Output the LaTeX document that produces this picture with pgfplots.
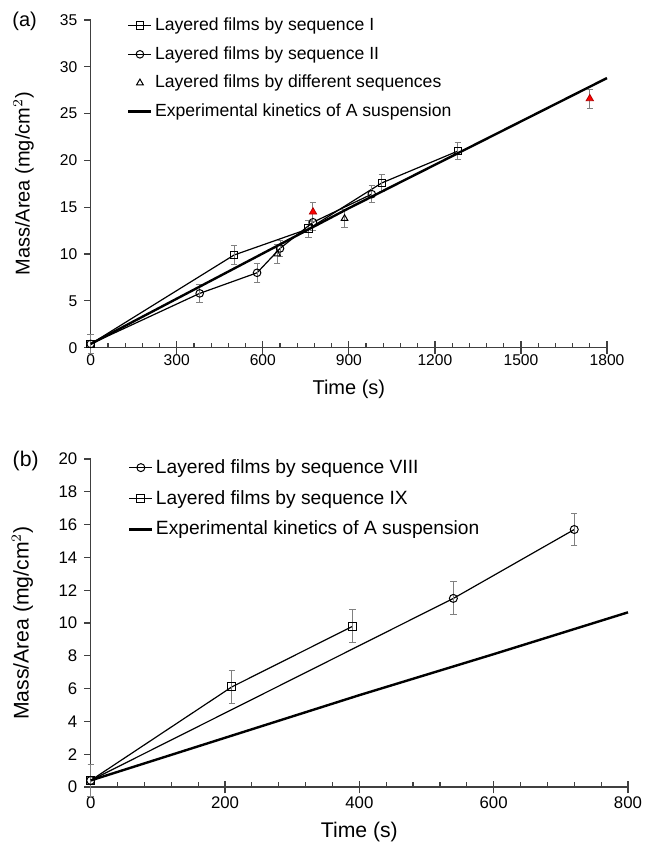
\documentclass[border=0pt]{standalone}
\usepackage{fontspec}
\setmainfont{Liberation Sans}
\usepackage{pgfplots}
\pgfplotsset{compat=1.18}

% one picture pixel = 0.5pt
\pgfplotsset{
  panel/.style={
    scale only axis,
    axis lines=left,
    axis line style={-, line width=0.6pt, black!75},
    tick align=inside,
    major tick length=3.2pt,
    minor tick length=2.4pt,
    tick style={black!75, line width=0.6pt},
    minor x tick num=4,
    ytick=\empty,
    extra x tick labels={},
    extra x tick style={tick align=outside},
    extra y tick style={tick align=outside},
    /pgf/number format/assume math mode=true,
    /pgf/number format/1000 sep={},
    clip=false,
    legend cell align=left,
    legend image code/.code={
      \draw[mark repeat=2,mark phase=2,#1] plot coordinates {(0pt,0pt) (5.75pt,0pt) (11.5pt,0pt)};},
  },
  series/.style={black, line width=0.6pt, mark options={solid, fill=white, line width=0.5pt}},
  bars/.style={
    error bars/y dir=both, error bars/y explicit,
    error bars/error bar style={black!50, line width=0.5pt},
    error bars/error mark options={rotate=90, mark size=1.6pt, black!50, line width=0.5pt}},
  kin/.style={black, line width=1.2pt, mark=none},
}

\begin{document}
\begin{tikzpicture}
\useasboundingbox (0,0) rectangle (322.5pt,425pt);

% ---------- panel (a) ----------
\begin{axis}[panel,
  at={(45.35pt,251.15pt)}, anchor=south west,
  width=258.15pt, height=163.85pt,
  xmin=0, xmax=1800, ymin=0, ymax=35,
  xtick={0,300,...,1800}, extra x ticks={0,300,...,1800},
  extra y ticks={0,5,...,35},
  tick label style={font=\fontsize{7.8}{8}\selectfont},
  xlabel={Time (s)}, ylabel={Mass/Area (mg/cm$^{2}$)},
  label style={font=\fontsize{10}{11}\selectfont},
  xlabel style={at={(axis description cs:0.5,-0.127)}, anchor=center},
  ylabel style={at={(axis description cs:-0.13,0.5)}, anchor=center},
  legend style={draw=none, fill=none, at={(axis description cs:0.07,1.015)}, anchor=north west,
    font=\fontsize{8.8}{10}\selectfont, row sep=4.0pt, inner sep=0pt, nodes={inner sep=1.2pt}},
]
% sequence I
\addplot[series, mark=square, mark size=1.9pt, bars] coordinates {
  (0,0.4) +- (0,1.0)
  (500,9.9) +- (0,1.0)
  (760,12.7) +- (0,0.9)
  (1015,17.6) +- (0,0.9)
  (1280,21.0) +- (0,0.9)
};
% sequence II
\addplot[series, mark=o, mark size=1.9pt, bars] coordinates {
  (0,0.4) +- (0,1.0)
  (380,5.8) +- (0,1.0)
  (580,8.0) +- (0,1.0)
  (660,10.6) +- (0,0.9)
  (775,13.4) +- (0,0.9)
  (980,16.4) +- (0,0.9)
};
% different sequences
\addplot[series, only marks, mark=triangle, mark size=1.9pt, bars] coordinates {
  (650,10.0) +- (0,1.0)
  (885,13.8) +- (0,1.0)
};
% kinetics of A suspension
\addplot[kin] coordinates {(0,0.4) (900,14.9) (1800,28.8)};
% filled red triangles (different sequences)
\addplot[forget plot, only marks, mark=triangle*, mark size=2.1pt, bars,
  mark options={fill=red, draw=red!70!black, line width=0.4pt}] coordinates {
  (775,14.5) +- (0,1.0)
  (1740,26.6) +- (0,1.0)
};
\legend{Layered films by sequence I, Layered films by sequence II,
  Layered films by different sequences, Experimental kinetics of A suspension}
\node[font=\fontsize{10}{11}\selectfont] at (axis description cs:-0.128,0.997) {(a)};
\end{axis}

% ---------- panel (b) ----------
\begin{axis}[panel,
  at={(45.35pt,31.5pt)}, anchor=south west,
  width=268.65pt, height=164pt,
  xmin=0, xmax=800, ymin=0, ymax=20,
  xtick={0,200,...,800}, extra x ticks={0,200,...,800},
  extra y ticks={0,2,...,20},
  tick label style={font=\fontsize{8.4}{9}\selectfont},
  xticklabel style={yshift=-1.5pt},
  xlabel={Time (s)}, ylabel={Mass/Area (mg/cm$^{2}$)},
  label style={font=\fontsize{10.6}{11}\selectfont},
  xlabel style={at={(axis description cs:0.5,-0.138)}, anchor=center},
  ylabel style={at={(axis description cs:-0.127,0.5)}, anchor=center},
  legend style={draw=none, fill=none, at={(axis description cs:0.069,1.008)}, anchor=north west,
    font=\fontsize{9.6}{11}\selectfont, row sep=4.6pt, inner sep=0pt, nodes={inner sep=1.2pt}},
]
% sequence VIII
\addplot[series, mark=o, mark size=2pt, bars] coordinates {
  (0,0.4) +- (0,1.0)
  (540,11.5) +- (0,1.0)
  (720,15.7) +- (0,1.0)
};
% sequence IX
\addplot[series, mark=square, mark size=2pt, bars] coordinates {
  (0,0.4) +- (0,1.0)
  (210,6.1) +- (0,1.0)
  (390,9.8) +- (0,1.0)
};
% kinetics of A suspension
\addplot[kin] coordinates {(0,0.4) (200,3.0) (400,5.6) (600,8.1) (800,10.65)};
\legend{Layered films by sequence VIII, Layered films by sequence IX,
  Experimental kinetics of A suspension}
\node[font=\fontsize{10.6}{11}\selectfont] at (axis description cs:-0.121,0.994) {(b)};
\end{axis}
\end{tikzpicture}
\end{document}
